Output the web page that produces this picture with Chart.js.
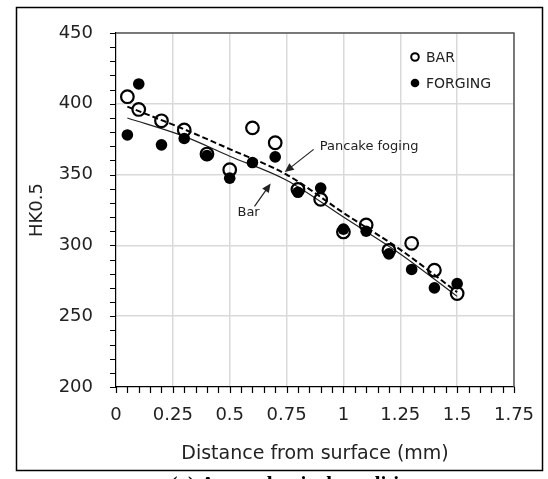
<!DOCTYPE html>
<html lang="en">

<head>
    <meta charset="UTF-8" />
    <title> HK0.5 vs distance </title>
    <script src="https://cdn.jsdelivr.net/npm/chart.js@4.4.1/dist/chart.umd.min.js"></script>
    <style>
        html, body { margin: 0; padding: 0; background: #fff; }
        #wrap { position: relative; width: 548px; height: 479px; }
    </style>
</head>

<body>
    <div id="wrap"><canvas id="chart"></canvas></div>
    <script>
        //////////////////// data ////////////////////

        const depth = [0.05, 0.1, 0.2, 0.3, 0.4, 0.5, 0.6, 0.7, 0.8, 0.9, 1.0, 1.1, 1.2, 1.3, 1.4, 1.5];
        const barHK = [405, 396, 388, 381.5, 364.5, 353.5, 383, 372.5, 339.5, 332.5, 309.5, 314.5, 296.5, 301.5, 282.5, 266];
        const forgingHK = [378, 414, 371, 375.5, 363.5, 347.5, 358.5, 362.5, 337.5, 340.5, 311.5, 310, 294, 283, 270, 273];

        // trend lines (read at a few depths)
        const trendDepth = [0.05, 0.3, 0.5, 0.75, 1.0, 1.25, 1.5];
        const barTrend = [390, 377, 363, 346, 320, 294, 264];
        const pancakeTrend = [398, 382, 368, 350, 323, 297, 267];

        const xTicks = [0, 0.25, 0.5, 0.75, 1, 1.25, 1.5, 1.75];
        const yTicks = [200, 250, 300, 350, 400, 450];

        // annotation anchors, in data units: [x, y]
        const pancakeLabel = { text: 'Pancake foging', at: [0.896, 369.5], from: [0.869, 367.8], to: [0.742, 351.8] };
        const barLabel = { text: 'Bar', at: [0.583, 323], from: [0.609, 327.5], to: [0.680, 343.8] };

        const toPoints = (xs, ys) => xs.map((x, i) => ({ x: x, y: ys[i] }));
        const isMajor = (v, list) => list.some(t => Math.abs(t - v) < 1e-6);

        const FONT = "'DejaVu Sans', sans-serif";
        const TEXT = '#222';

        //////////////////// extra drawing: frame, legend, arrows, minor ticks ////////////////////

        function arrow(ctx, x1, y1, x2, y2) {
            const a = Math.atan2(y2 - y1, x2 - x1);
            ctx.beginPath();
            ctx.moveTo(x1, y1);
            ctx.lineTo(x2 - 6 * Math.cos(a), y2 - 6 * Math.sin(a));
            ctx.stroke();
            ctx.beginPath();
            ctx.moveTo(x2, y2);
            ctx.lineTo(x2 - 9 * Math.cos(a) + 4 * Math.sin(a), y2 - 9 * Math.sin(a) - 4 * Math.cos(a));
            ctx.lineTo(x2 - 9 * Math.cos(a) - 4 * Math.sin(a), y2 - 9 * Math.sin(a) + 4 * Math.cos(a));
            ctx.closePath();
            ctx.fill();
        }

        const extras = {
            id: 'extras',
            beforeDraw(chart) {
                const ctx = chart.ctx;
                ctx.save();
                ctx.fillStyle = '#fff';
                ctx.fillRect(0, 0, chart.width, chart.height);
                ctx.restore();
            },
            afterDatasetsDraw(chart) {
                const ctx = chart.ctx;
                const xs = chart.scales.x, ys = chart.scales.y;
                const px = p => [xs.getPixelForValue(p[0]), ys.getPixelForValue(p[1])];
                ctx.save();
                ctx.strokeStyle = '#222';
                ctx.fillStyle = '#222';
                ctx.lineWidth = 1.2;
                [pancakeLabel, barLabel].forEach(l => {
                    const f = px(l.from), t = px(l.to), a = px(l.at);
                    arrow(ctx, f[0], f[1], t[0], t[1]);
                    ctx.font = '13px ' + FONT;
                    ctx.textBaseline = 'middle';
                    ctx.textAlign = l === barLabel ? 'center' : 'left';
                    ctx.fillText(l.text, a[0], a[1]);
                });
                ctx.restore();
            },
            afterDraw(chart) {
                const ctx = chart.ctx;
                const area = chart.chartArea;
                const xs = chart.scales.x, ys = chart.scales.y;
                ctx.save();
                // tick marks on both axes (major and minor)
                ctx.strokeStyle = '#000';
                ctx.lineWidth = 1.2;
                ctx.beginPath();
                xs.ticks.forEach(t => {
                    const x = Math.round(xs.getPixelForValue(t.value)) + 0.5;
                    ctx.moveTo(x, area.bottom);
                    ctx.lineTo(x, area.bottom + 6);
                });
                ys.ticks.forEach(t => {
                    const y = Math.round(ys.getPixelForValue(t.value)) + 0.5;
                    ctx.moveTo(area.left, y);
                    ctx.lineTo(area.left - 6, y);
                });
                ctx.stroke();
                // plot area border (top + right)
                ctx.strokeStyle = '#555';
                ctx.lineWidth = 1.5;
                ctx.beginPath();
                ctx.moveTo(area.left, area.top);
                ctx.lineTo(area.right, area.top);
                ctx.lineTo(area.right, area.bottom);
                ctx.stroke();
                // outer frame
                ctx.strokeStyle = '#000';
                ctx.lineWidth = 1.5;
                ctx.strokeRect(16.5, 7.5, 526, 463);
                // legend
                ctx.lineWidth = 2;
                ctx.beginPath();
                ctx.arc(415, 57, 3.8, 0, Math.PI * 2);
                ctx.stroke();
                ctx.fillStyle = '#000';
                ctx.beginPath();
                ctx.arc(415, 83, 4.3, 0, Math.PI * 2);
                ctx.fill();
                ctx.fillStyle = TEXT;
                ctx.font = '14px ' + FONT;
                ctx.textBaseline = 'middle';
                ctx.textAlign = 'left';
                ctx.fillText('BAR', 426, 58);
                ctx.fillText('FORGING', 426, 84);
                // caption cut off by the picture edge
                ctx.font = 'bold 21px "Liberation Serif", serif';
                ctx.textAlign = 'center';
                ctx.textBaseline = 'alphabetic';
                ctx.fillStyle = '#000';
                ctx.fillText('(a) As-mechanical conditions', 300, 491);
                ctx.restore();
            }
        };

        //////////////////// chart ////////////////////

        const ctx = document.getElementById('chart').getContext('2d');
        const myChart = new Chart(ctx, {
            type: 'scatter',
            data: {
                datasets: [{
                    label: 'FORGING',
                    data: toPoints(depth, forgingHK),
                    pointRadius: 5.8,
                    pointBackgroundColor: '#000',
                    pointBorderWidth: 0,
                    order: 1
                }, {
                    label: 'BAR',
                    data: toPoints(depth, barHK),
                    pointRadius: 6.3,
                    pointBackgroundColor: 'rgba(0,0,0,0)',
                    pointBorderColor: '#000',
                    pointBorderWidth: 2.2,
                    order: 2
                }, {
                    label: 'Pancake foging',
                    data: toPoints(trendDepth, pancakeTrend),
                    showLine: true,
                    pointRadius: 0,
                    borderColor: '#000',
                    borderWidth: 2,
                    borderDash: [6, 3],
                    cubicInterpolationMode: 'monotone',
                    order: 3
                }, {
                    label: 'Bar',
                    data: toPoints(trendDepth, barTrend),
                    showLine: true,
                    pointRadius: 0,
                    borderColor: '#222',
                    borderWidth: 1.2,
                    cubicInterpolationMode: 'monotone',
                    order: 3
                }]
            },
            options: {
                responsive: true,
                maintainAspectRatio: false,
                animation: false,
                events: [],
                layout: { padding: { left: 16, top: 33, right: 34, bottom: 9 } },
                plugins: {
                    legend: { display: false },
                    tooltip: { enabled: false }
                },
                scales: {
                    x: {
                        type: 'linear',
                        min: 0,
                        max: 1.75,
                        afterFit: s => { s.height = 83; },
                        border: { display: true, color: '#000', width: 1.2 },
                        grid: {
                            color: c => isMajor(c.tick.value, xTicks) && c.tick.value > 0 ? '#d9d9d9' : 'rgba(0,0,0,0)',
                            lineWidth: 1.5,
                            drawTicks: true,
                            tickColor: 'rgba(0,0,0,0)',
                            tickLength: 6
                        },
                        ticks: {
                            stepSize: 0.05,
                            autoSkip: false,
                            maxRotation: 0,
                            padding: 12,
                            color: TEXT,
                            font: { family: FONT, size: 18 },
                            callback: v => isMajor(v, xTicks) ? String(+v.toFixed(2)) : ''
                        },
                        title: {
                            display: true,
                            text: 'Distance from surface (mm)',
                            color: TEXT,
                            font: { family: FONT, size: 19 },
                            padding: { top: 0, bottom: 5 }
                        }
                    },
                    y: {
                        min: 200,
                        max: 450,
                        afterFit: s => { s.width = 100; },
                        border: { display: true, color: '#000', width: 1.2 },
                        grid: {
                            color: c => isMajor(c.tick.value, yTicks) && c.tick.value > 200 ? '#d9d9d9' : 'rgba(0,0,0,0)',
                            lineWidth: 1.5,
                            drawTicks: true,
                            tickColor: 'rgba(0,0,0,0)',
                            tickLength: 6
                        },
                        ticks: {
                            stepSize: 10,
                            autoSkip: false,
                            padding: 17,
                            color: TEXT,
                            font: { family: FONT, size: 18 },
                            callback: v => isMajor(v, yTicks) ? String(v) : ''
                        },
                        title: {
                            display: true,
                            text: 'HK0.5',
                            color: TEXT,
                            font: { family: FONT, size: 18 },
                            padding: { top: 11, bottom: 0 }
                        }
                    }
                }
            },
            plugins: [extras]
        });
    </script>

</body>

</html>
